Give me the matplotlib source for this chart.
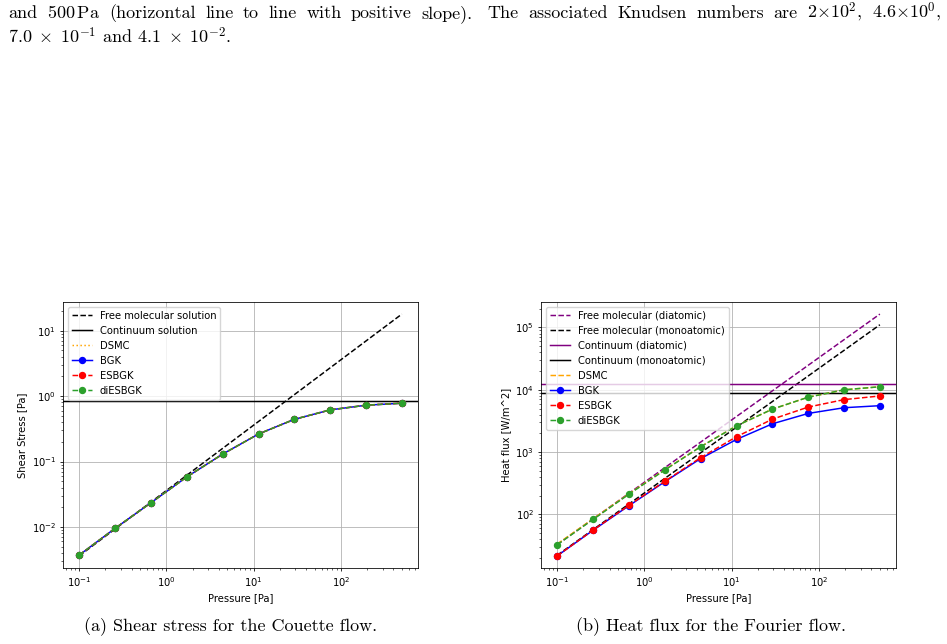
import matplotlib
matplotlib.use("Agg")
import matplotlib.pyplot as plt

# pressures of the simulated cases [Pa]
pressure = [0.1, 0.258, 0.665, 1.71, 4.42, 11.4, 29.4, 75.7, 195.0, 500.0]

# Couette flow, shear stress [Pa]
shear_dsmc = [0.0037, 0.0095, 0.0234, 0.058, 0.130, 0.264, 0.443, 0.620, 0.730, 0.790]
shear_bgk = [0.0037, 0.0095, 0.0234, 0.058, 0.130, 0.264, 0.443, 0.617, 0.727, 0.780]
shear_esbgk = [0.0037, 0.0095, 0.0234, 0.058, 0.130, 0.264, 0.443, 0.617, 0.727, 0.780]
shear_diesbgk = [0.0037, 0.0095, 0.0234, 0.058, 0.130, 0.264, 0.443, 0.617, 0.727, 0.780]
shear_free_coef = 0.036      # free molecular: tau = coef * p
shear_continuum = 0.838

# Fourier flow, heat flux [W/m^2]
heat_dsmc = [33.5, 85, 214, 520, 1225, 2650, 4900, 7620, 10000, 11190]
heat_bgk = [21.6, 55.7, 138, 334, 788, 1600, 2850, 4180, 5160, 5560]
heat_esbgk = [21.6, 56, 140, 340, 817, 1770, 3380, 5290, 6960, 7960]
heat_diesbgk = [32.6, 83, 211, 516, 1219, 2640, 4900, 7620, 10000, 11190]
heat_free_di_coef = 328.0    # free molecular (diatomic): q = coef * p
heat_free_mono_coef = 221.0  # free molecular (monoatomic)
heat_cont_di = 12370
heat_cont_mono = 8740

# words of the justified first line of the document text
line1_words = ["and", r"500$\,$Pa", "(horizontal", "line", "to", "line", "with",
               "positive", "slope).", "The", "associated", "Knudsen", "numbers",
               "are", r"$2{\times}10^2$,", r"$4.6{\times}10^0$,"]
line2_text = r"$7.0 \;\times\; 10^{-1}$ and $4.1 \;\times\; 10^{-2}$."

s = 0.716  # figure was scaled down in the document
fs = 10 * s
plt.rcParams.update({
    "font.size": fs,
    "lines.linewidth": 1.5 * s,
    "lines.markersize": 6 * s,
    "axes.linewidth": 0.8 * s,
    "grid.linewidth": 0.8 * s,
    "xtick.major.size": 3.5 * s,
    "ytick.major.size": 3.5 * s,
    "xtick.minor.size": 2 * s,
    "ytick.minor.size": 2 * s,
    "xtick.major.width": 0.8 * s,
    "ytick.major.width": 0.8 * s,
    "xtick.minor.width": 0.6 * s,
    "ytick.minor.width": 0.6 * s,
    "xtick.major.pad": 3.5 * s,
    "ytick.major.pad": 3.5 * s,
    "axes.labelpad": 4 * s,
    "legend.fontsize": fs,
    "mathtext.fontset": "dejavusans",
})

fig = plt.figure(figsize=(9.47, 6.44), dpi=100)
ax1 = fig.add_axes([63 / 947, 1 - 568 / 644, 355 / 947, 266 / 644])
ax2 = fig.add_axes([541 / 947, 1 - 568 / 644, 355 / 947, 266 / 644])

# (a) shear stress
free_shear = [shear_free_coef * p for p in pressure]
ax1.plot(pressure, free_shear, "k--", label="Free molecular solution")
ax1.axhline(shear_continuum, color="k", label="Continuum solution")
ax1.plot(pressure, shear_dsmc, ":", color="orange", label="DSMC")
ax1.plot(pressure, shear_bgk, "-o", color="blue", label="BGK")
ax1.plot(pressure, shear_esbgk, "--o", color="red", label="ESBGK")
ax1.plot(pressure, shear_diesbgk, "--o", color="tab:green", label="diESBGK")
ax1.set_xscale("log")
ax1.set_yscale("log")
ax1.set_xlabel("Pressure [Pa]")
ax1.set_ylabel("Shear Stress [Pa]")
ax1.grid(True)
ax1.legend(loc="upper left")

# (b) heat flux
free_di = [heat_free_di_coef * p for p in pressure]
free_mono = [heat_free_mono_coef * p for p in pressure]
ax2.plot(pressure, free_di, "--", color="purple", label="Free molecular (diatomic)")
ax2.plot(pressure, free_mono, "k--", label="Free molecular (monoatomic)")
ax2.axhline(heat_cont_di, color="purple", label="Continuum (diatomic)")
ax2.axhline(heat_cont_mono, color="k", label="Continuum (monoatomic)")
ax2.plot(pressure, heat_dsmc, "--", color="orange", label="DSMC")
ax2.plot(pressure, heat_bgk, "-o", color="blue", label="BGK")
ax2.plot(pressure, heat_esbgk, "--o", color="red", label="ESBGK")
ax2.plot(pressure, heat_diesbgk, "--o", color="tab:green", label="diESBGK")
ax2.set_xscale("log")
ax2.set_yscale("log")
ax2.set_xlabel("Pressure [Pa]")
ax2.set_ylabel("Heat flux [W/m^2]")
ax2.grid(True)
ax2.legend(loc="upper left")

# surrounding document text (Computer Modern)
serif = dict(family="cmr10", fontsize=13, math_fontfamily="cm")
W, H = 947, 644
renderer = fig.canvas.get_renderer()

# first line is justified between x=8 and x=941, wider gap after the sentence end
left, right = 8, 941
texts = [fig.text(0, 1 - 18 / H, w, ha="left", va="baseline", **serif) for w in line1_words]
widths = [t.get_window_extent(renderer).width for t in texts]
weights = [1.0] * (len(texts) - 1)
weights[line1_words.index("slope).")] = 1.6
gap = (right - left - sum(widths)) / sum(weights)
x = left
for i, t in enumerate(texts):
    t.set_x(x / W)
    if i < len(weights):
        x += widths[i] + gap * weights[i]

fig.text(left / W, 1 - 43 / H, line2_text, ha="left", va="baseline", **serif)
fig.text(231 / W, 1 - 631 / H, "(a) Shear stress for the Couette flow.",
         ha="center", va="baseline", **serif)
fig.text(711 / W, 1 - 631 / H, "(b) Heat flux for the Fourier flow.",
         ha="center", va="baseline", **serif)

fig.savefig("out.png", dpi=100)
